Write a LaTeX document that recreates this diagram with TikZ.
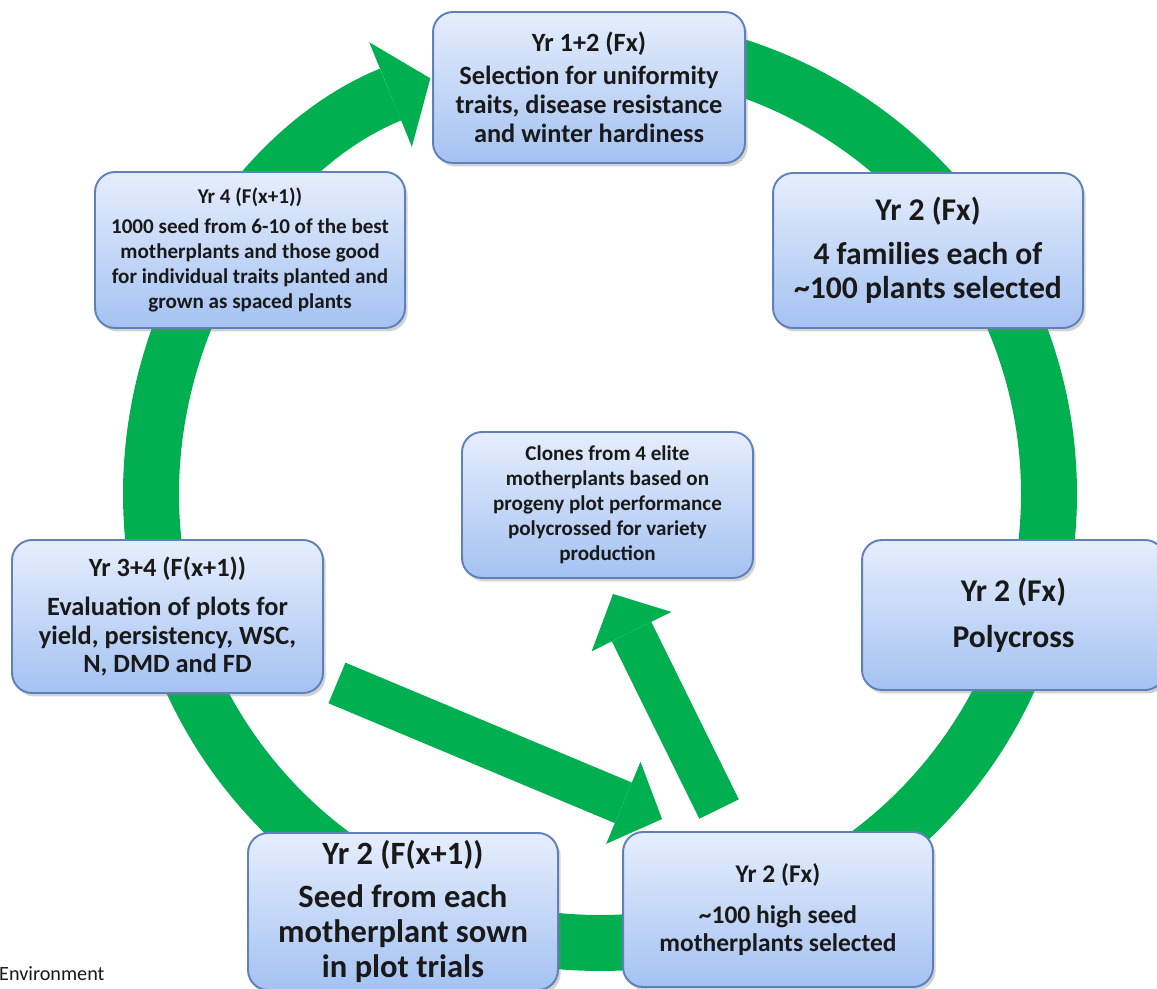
\documentclass[tikz,border=0pt]{standalone}
\usepackage{fontspec}
\setmainfont{Carlito}
\usetikzlibrary{arrows.meta,shadows,backgrounds}

\definecolor{ringgreen}{RGB}{0,176,80}
\definecolor{boxtop}{RGB}{230,238,252}
\definecolor{boxbot}{RGB}{164,194,242}
\definecolor{boxline}{RGB}{96,128,188}
\definecolor{textdark}{RGB}{25,25,25}

\tikzset{
  stage/.style={rectangle, rounded corners=0.4cm, draw=boxline, line width=1.1pt,
    top color=boxtop, bottom color=boxbot,
    drop shadow={shadow xshift=1.5pt, shadow yshift=-2pt, opacity=0.35},
    align=center, inner sep=0pt, text=textdark},
  ring/.style={draw=ringgreen, line width=1.12cm,
    -{Triangle[width=2.26cm, length=0.86cm, line width=0pt]}},
  bigarrow/.style={draw=ringgreen, line width=0.88cm,
    -{Triangle[width=1.78cm, length=0.84cm, line width=0pt]}},
}

\begin{document}
\begin{tikzpicture}[x=0.02cm, y=0.02cm]
\useasboundingbox (0,0) rectangle (1157,-989);

\node[stage, minimum width=6.24cm, minimum height=3.02cm,
  font=\bfseries\fontsize{15}{16.7}\selectfont] (sel) at (589,-87.5)
  {Yr 1+2 (Fx)\\[2pt] Selection for uniformity\\ traits, disease resistance\\ and winter hardiness};
\node[stage, minimum width=6.2cm, minimum height=3.1cm,
  font=\bfseries\fontsize{18}{19.8}\selectfont] (fam) at (928,-250.5)
  {Yr 2 (Fx)\\[5pt] 4 families each of\\ \textasciitilde100 plants selected};
\node[stage, minimum width=6.06cm, minimum height=3.0cm,
  font=\bfseries\fontsize{18}{20}\selectfont] (poly) at (1013.5,-615)
  {Yr 2 (Fx)\\[6pt] Polycross};
\node[stage, minimum width=6.2cm, minimum height=3.1cm,
  font=\bfseries\fontsize{14.5}{15.9}\selectfont] (mother) at (778,-909.5)
  {Yr 2 (Fx)\\[7pt] \textasciitilde100 high seed\\ motherplants selected};
\node[stage, minimum width=6.2cm, minimum height=3.14cm,
  font=\bfseries\fontsize{18.5}{19.8}\selectfont] (sown) at (403,-911.5)
  {Yr 2 (F(x+1))\\[4.5pt] Seed from each\\ motherplant sown\\ in plot trials};
\node[stage, minimum width=6.22cm, minimum height=3.06cm,
  font=\bfseries\fontsize{15}{16.4}\selectfont] (eval) at (167.5,-616.5)
  {Yr 3+4 (F(x+1))\\[6pt] Evaluation of plots for\\ yield, persistency, WSC,\\ N, DMD and FD};
\node[stage, minimum width=6.2cm, minimum height=3.12cm,
  font=\bfseries\fontsize{12}{14.2}\selectfont] (spaced) at (250,-250)
  {Yr 4 (F(x+1))\\[3pt] 1000 seed from 6-10 of the best\\ motherplants and those good\\ for individual traits planted and\\ grown as spaced plants};
\node[stage, minimum width=5.82cm, minimum height=2.92cm,
  font=\bfseries\fontsize{12}{14.2}\selectfont] (clones) at (607.5,-505)
  {Clones from 4 elite\\ motherplants based on\\ progeny plot performance\\ polycrossed for variety\\ production};

\node[anchor=base west, text=textdark, font=\fontsize{11.5}{13}\selectfont] (org) at (-7,-980) {Environment};

\coordinate (hub) at (600,-494);
\coordinate (tailA) at ([shift={(13,11)}]eval.south east);
\coordinate (tipA) at ([shift={(40,12)}]mother.north west);
\coordinate (tailB) at ([shift={(97,22)}]mother.north west);
\coordinate (tipB) at ([shift={(5.5,-15)}]clones.south);

\begin{scope}[on background layer]
\fill[white] (0,0) rectangle (1157,-989);
\draw[ring] (hub) ++(90:449) arc[start angle=90, end angle=-247.8, radius=449];
\draw[bigarrow] (tailA) -- (tipA);
\draw[bigarrow] (tailB) -- (tipB);
\end{scope}

\end{tikzpicture}
\end{document}
